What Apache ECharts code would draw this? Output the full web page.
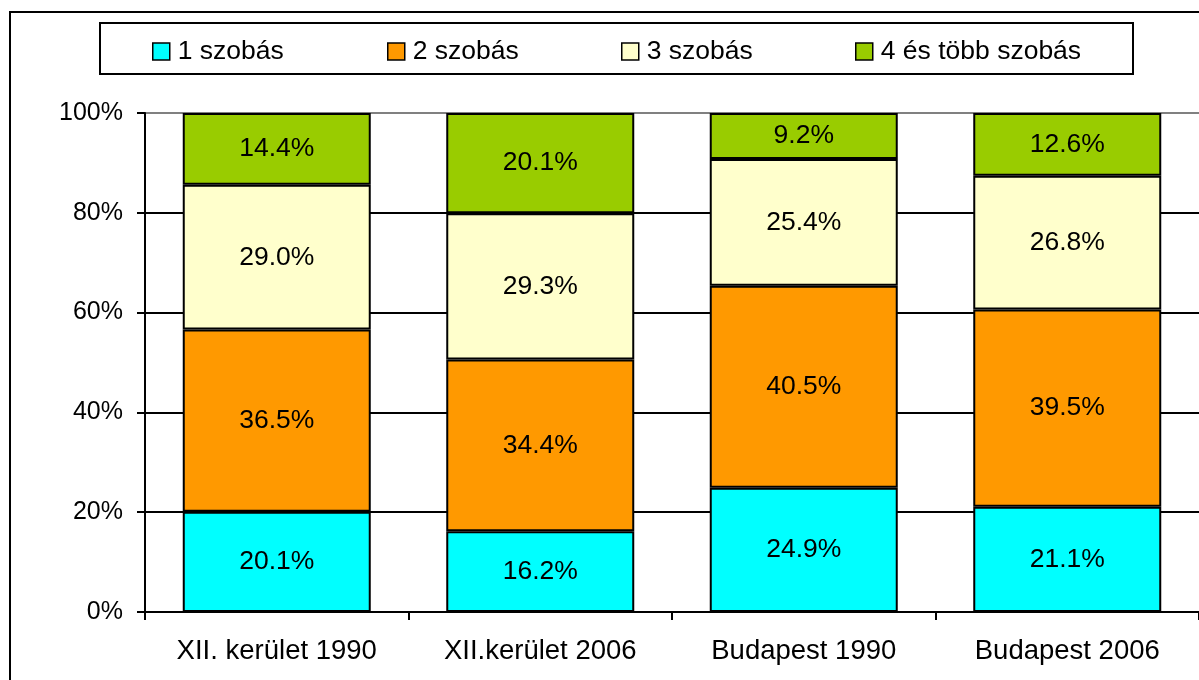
<!DOCTYPE html>
<html>
<head>
<meta charset="utf-8">
<script src="https://cdn.jsdelivr.net/npm/echarts@6/dist/echarts.min.js"></script>
<style>
html,body{margin:0;padding:0;background:#fff;}
#chart{width:1199px;height:680px;}
</style>
</head>
<body>
<div id="chart"></div>
<script>
const categories = ['XII. kerület 1990', 'XII.kerület 2006', 'Budapest 1990', 'Budapest 2006'];
const seriesNames = ['1 szobás', '2 szobás', '3 szobás', '4 és több szobás'];
const room1 = [20.1, 16.2, 24.9, 21.1];
const room2 = [36.5, 34.4, 40.5, 39.5];
const room3 = [29.0, 29.3, 25.4, 26.8];
const room4 = [14.4, 20.1, 9.2, 12.6];
const yTicks = [0, 20, 40, 60, 80, 100];

const colors = ['#00FFFF', '#FF9900', '#FFFFCC', '#99CC00'];
const values = [room1, room2, room3, room4];
const FONT = '"Liberation Sans", Arial, sans-serif';

const chart = echarts.init(document.getElementById('chart'), null, {renderer: 'canvas'});

const legendLefts = [152, 387, 621, 855];
const legends = seriesNames.map((n, i) => ({
  data: [n],
  left: legendLefts[i],
  top: 38,
  itemWidth: 17,
  itemHeight: 17,
  icon: 'rect',
  itemStyle: {borderColor: '#000', borderWidth: 1.5},
  textStyle: {fontFamily: FONT, fontSize: 26.5, color: '#000', padding: [2, 0, 0, 3]},
  selectedMode: false,
  padding: 0
}));

const series = seriesNames.map((n, i) => ({
  name: n,
  type: 'bar',
  stack: 'total',
  barWidth: 188,
  data: values[i],
  itemStyle: {color: colors[i], borderColor: '#000', borderWidth: 2},
  label: {
    show: true,
    position: 'inside',
    fontFamily: FONT,
    fontSize: 26.5,
    color: '#000',
    formatter: p => p.value.toFixed(1) + '%'
  },
  emphasis: {disabled: true}
}));

chart.setOption({
  animation: false,
  backgroundColor: '#fff',
  color: colors,
  legend: legends,
  grid: {left: 145, top: 113, width: 1056, height: 499, containLabel: false},
  xAxis: {
    type: 'category',
    data: categories,
    axisLine: {lineStyle: {color: '#000', width: 2}},
    axisTick: {show: true, alignWithLabel: false, length: 8, lineStyle: {color: '#000', width: 2}},
    axisLabel: {fontFamily: FONT, fontSize: 27.5, color: '#000', margin: 25}
  },
  yAxis: {
    type: 'value',
    min: yTicks[0],
    max: yTicks[yTicks.length - 1],
    interval: 20,
    axisLine: {show: true, lineStyle: {color: '#000', width: 2}},
    axisTick: {show: true, length: 8, lineStyle: {color: '#000', width: 2}},
    axisLabel: {fontFamily: FONT, fontSize: 25, color: '#000', margin: 22, formatter: '{value}%'},
    splitLine: {show: true, lineStyle: {color: ['#000', '#000', '#000', '#000', '#000', '#808080'], width: 2}}
  },
  series: series,
  graphic: [
    {type: 'rect', shape: {x: 10, y: 12, width: 1260, height: 720}, style: {fill: null, stroke: '#000', lineWidth: 2}, silent: true, z: 100},
    {type: 'rect', shape: {x: 100, y: 23, width: 1033, height: 51}, style: {fill: null, stroke: '#000', lineWidth: 2}, silent: true, z: 100}
  ]
});
</script>
</body>
</html>
